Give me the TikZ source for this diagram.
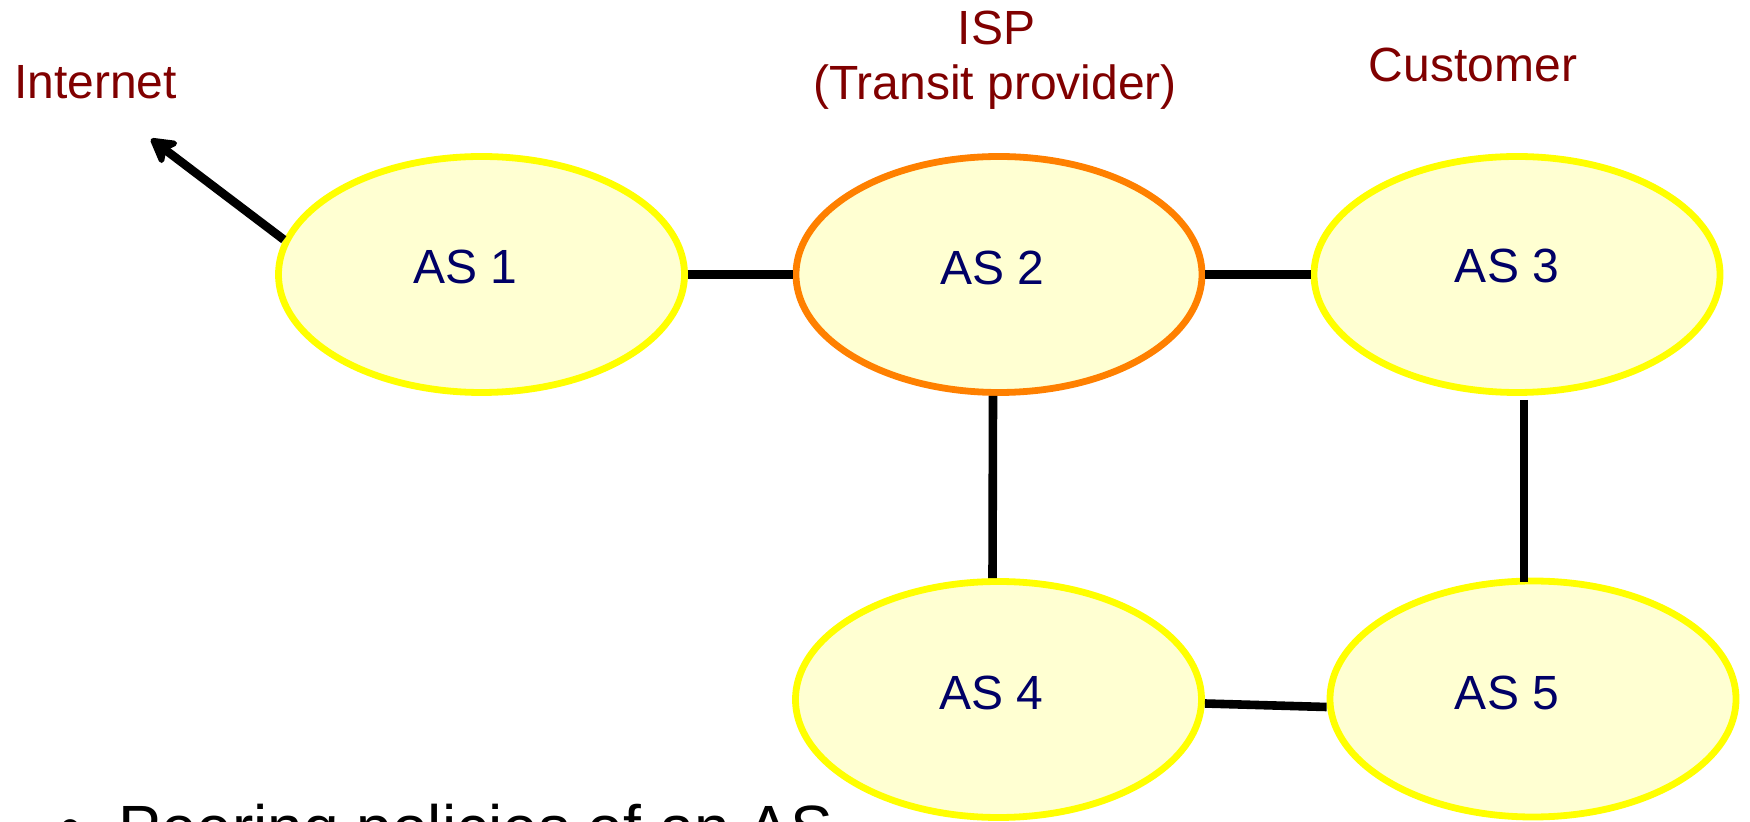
\documentclass[tikz,border=0pt]{standalone}
\usepackage{fontspec}
\setmainfont{Liberation Sans}
\usetikzlibrary{shapes.geometric,arrows.meta}
\definecolor{labred}{RGB}{128,0,0}
\definecolor{asblue}{RGB}{0,0,102}
\definecolor{asfill}{RGB}{255,255,210}
\definecolor{asyellow}{RGB}{255,255,0}
\definecolor{asorange}{RGB}{255,128,0}
\begin{document}
\begin{tikzpicture}[x=0.5pt,y=-0.5pt,
  asnode/.style={ellipse, draw=asyellow, fill=asfill, line width=3.4pt,
    minimum width=203pt, minimum height=118pt, inner sep=0pt},
  astext/.style={text=asblue, font=\fontsize{24}{28}\selectfont, anchor=base, inner sep=0pt},
  toplabel/.style={text=labred, font=\fontsize{24}{28}\selectfont, anchor=base, inner sep=0pt},
  link/.style={line width=4.3pt, draw=black},
]
\useasboundingbox (0,0) rectangle (1750,822);

% ellipses
\node[asnode] (AS1) at (481.5,274.5) {};
\node[asnode, draw=asorange] (AS2) at (999,274.5) {};
\node[asnode] (AS3) at (1517,274.5) {};
\node[asnode] (AS4) at (998.5,699.5) {};
\node[asnode] (AS5) at (1533,699) {};

% texts in ellipses
\node[astext] (t1) at (465.5,284) {AS 1};
\node[astext] (t2) at (992.5,285) {AS 2};
\node[astext] (t3) at (1507,283) {AS 3};
\node[astext] (t4) at (991.5,710) {AS 4};
\node[astext] (t5) at (1507,710) {AS 5};

% labels
\node[toplabel] (inetlab) at (95.5,99) {Internet};
\node[toplabel] (isp) at (996.5,45) {ISP};
\node[toplabel] (transit) at (995,100) {(Transit provider)};
\node[toplabel] (cust) at (1473,82) {Customer};

% connectors
\draw[link] (AS1.east) -- (AS2.west);
\draw[link] (AS2.east) -- (AS3.west);
\draw[link] ([xshift=-3pt]AS2.south) -- ([xshift=-3pt]AS4.north);
\draw[link] ([xshift=3.5pt,yshift=-2pt]AS3.south) -- ([xshift=-4.5pt,yshift=-2pt]AS5.north);
\draw[link] ([yshift=-2pt]AS4.east) -- ([yshift=-4pt]AS5.west);

\coordinate (inet) at (151,139);
\draw[link, -{Stealth[length=15pt,width=17pt,inset=4pt,round]}] (AS1.170) -- (inet);

% bottom bullet text (cut by the page edge)
\node[anchor=base, inner sep=0pt, font=\fontsize{32}{36}\selectfont] (bul) at (71,849) {•};
\node[anchor=base west, inner sep=0pt, font=\fontsize{32}{36}\selectfont] (peer) at (118,850) {Peering policies of an AS};
\end{tikzpicture}
\end{document}
